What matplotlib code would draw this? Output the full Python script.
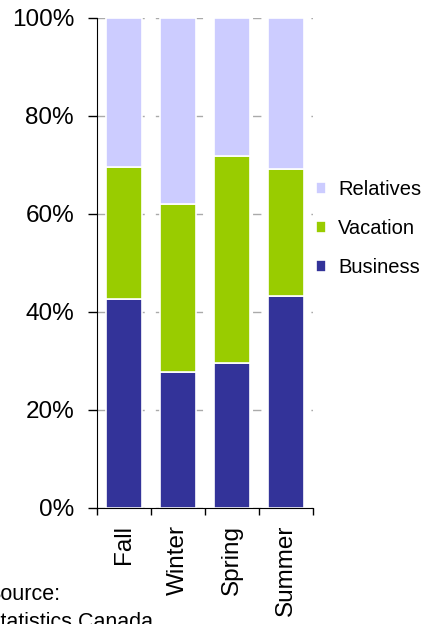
import numpy as np
import matplotlib.pyplot as plt

plt.rcParams['font.family'] = ['Liberation Sans', 'DejaVu Sans']

seasons = ["Fall", "Winter", "Spring", "Summer"]
business = [42.7, 27.8, 29.6, 43.3]
vacation = [26.9, 34.2, 42.2, 25.9]
relatives = [30.4, 38.0, 28.2, 30.8]

COLORS = {"Business": "#333399", "Vacation": "#99CC00", "Relatives": "#CCCCFF"}


def plot_trip_purpose():
    fig = plt.figure(figsize=(4.28, 6.24), dpi=100)
    ax = fig.add_axes([97 / 428, 116 / 624, 216 / 428, 490 / 624])

    x = np.arange(len(seasons))
    bottom = np.zeros(len(seasons))
    handles = {}
    for name, values in [("Business", business), ("Vacation", vacation),
                         ("Relatives", relatives)]:
        bars = ax.bar(x, values, width=0.65, bottom=bottom, color=COLORS[name],
                      edgecolor="white", linewidth=1.2, zorder=2)
        handles[name] = bars
        bottom += np.array(values)

    ax.set_xlim(-0.5, len(seasons) - 0.5)
    ax.set_ylim(0, 100)
    ax.set_yticks(np.arange(0, 101, 20))
    ax.set_yticklabels([f"{v}%" for v in range(0, 101, 20)], fontsize=17.5)
    ax.yaxis.grid(True, color="#AAAAAA", linestyle=(0, (6, 8)), linewidth=1, zorder=0)
    ax.set_axisbelow(True)

    ax.set_xticks(x)
    ax.set_xticklabels(seasons, rotation=90, fontsize=17.5)
    ax.tick_params(axis="x", which="major", length=0, pad=12)
    ax.set_xticks(np.arange(-0.5, len(seasons)), minor=True)
    ax.tick_params(axis="x", which="minor", length=5, width=1, direction="out")
    ax.tick_params(axis="y", length=6.5, width=1, direction="out", pad=10)

    ax.spines["top"].set_visible(False)
    ax.spines["right"].set_visible(False)

    order = ["Relatives", "Vacation", "Business"]
    fig.legend([handles[n] for n in order], order, loc="upper left",
               bbox_to_anchor=(316 / 428, 1 - 180 / 624), frameon=False,
               fontsize=14.5, handlelength=0.5, handleheight=0.5,
               handletextpad=0.6, labelspacing=1.0,
               borderpad=0, borderaxespad=0)

    fig.text(-14 / 428, 1 - 628 / 624, "Source:\nStatistics Canada",
             fontsize=15.5, va="baseline", ha="left", linespacing=1.45)

    fig.savefig("out.png", dpi=100)


def main():
    plot_trip_purpose()


if __name__ == "__main__":
    main()
